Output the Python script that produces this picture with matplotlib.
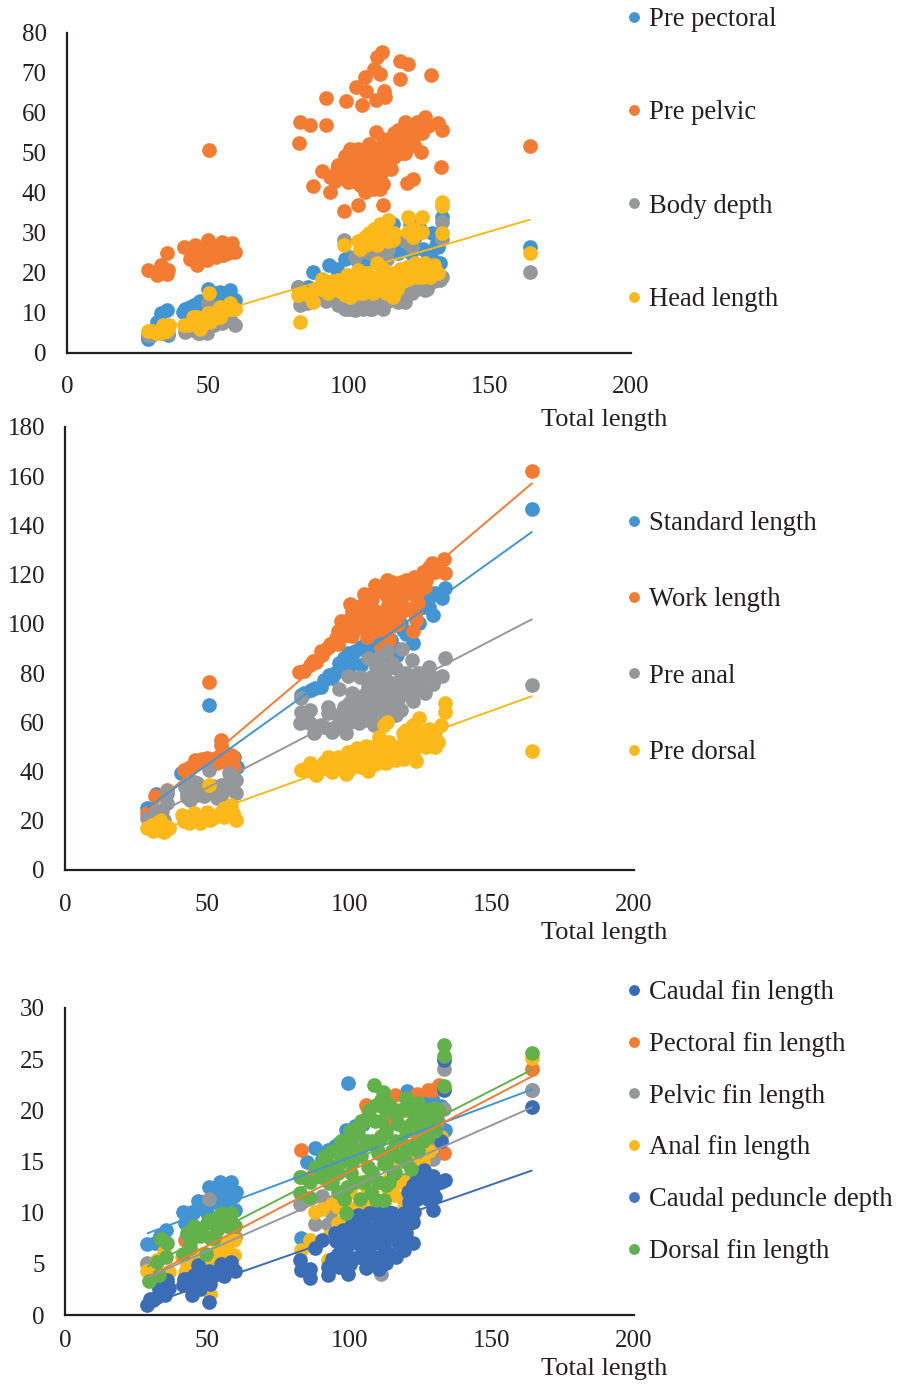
import matplotlib
matplotlib.use("Agg")
import matplotlib.pyplot as plt
import numpy as np
from matplotlib.lines import Line2D

# ---------- Panel 1 ----------
pre_pectoral_x = [28.8,28.8,31.8,33.5,35.3,35.9,41.2,43.6,46.5,48.3,50.1,51.8,54.2,54.8,57.8,59.5,82,85.6,87.4,91.5,93,95.6,98.6,102.7,106.3,115.7,117.5,119.3,121.6,126.4,129.3,129.3,131.7,132.3,132.9,164.2,
                  96,100,104,108,112,118,122,125,128,131, 42,45,47,49,53,56,58]
pre_pectoral_y = [3.5,3.9,7.7,9.8,10.6,4.4,10.2,11.4,12.3,10.6,16,13.9,15.2,13.1,15.6,13.1,16.4,16.4,20.2,17.3,21.8,21,23.5,23.1,22.3,32.3,24.8,15.6,26.4,26,30,23.5,26.4,22.3,33.9,26.4,
                  20,24,22,24,24,27,25,31,24,27, 11,12,13,11,15,13,14]
pre_pelvic_x = [28.8,31.8,33.5,35.3,35.5,35.9,41.4,43.6,43.6,45.3,46,47.1,49.5,50.1,50.4,51.8,54.8,55.4,56.6,58.4,59.5,
                82.3,82.6,86,87.4,90.3,92,92,93.3,93.3,95,95.6,98,98.2,98.6,99,99.8,100.4,102.5,102.7,103.3,103.3,103.3,104.5,105.7,105.7,105.7,105.7,106,106.3,107,108.6,109,109,109.6,109.7,109.8,111,111.6,112,112,112,112.5,112.8,112.8,112.8,115,115.7,117,117.5,118,118,120,120.5,121,121.6,122.8,123,124,125.5,127,128,129,131.7,132.6,133,164.2,
                96,98,100,101,102,103,104,105,106,107,
                108,108,110,110,111,111,113,113,114,114,
                115,116,117,118,119,120,121,122,123,124,
                107,109,111,104,101,126,118,116,99,120,
                44,45,46,48,49,50,52,53,54,57]
pre_pelvic_y = [20.6,19.4,21.9,19.6,24.9,20.6,26.4,23.5,26,26.8,21.9,24.8,23.1,28.1,50.8,26,27.7,24.3,26,27.3,25.2,
                52.4,57.8,57,41.8,45.4,63.7,57,44,40.2,43,45.6,46.8,35.4,49.3,63,42.8,51,66.4,48,51,44.4,37,62,69,46.4,42.3,40.2,65.6,49.8,52.3,44.6,71,42.3,63.3,55.2,74,69.8,75.2,53.5,42.3,37,65.6,64,49.3,46.4,46,50,53,55.6,73,68.5,57.7,42.4,72.3,51.6,43.5,54.3,57.7,50.2,59,56.8,69.6,57.4,46.4,55.6,51.8,
                47,44,46,49,44,47,49,45,48,47,
                50,46,51,47,49,44,52,46,50,48,
                52,49,51,53,50,54,52,55,52,56,
                43,41,41,42,43,55,55,55,48,50,
                24,25,23,25,26,24,25,24,27,25]
body_depth_x = [28.8,31,33,35.9,41.8,44.8,46.5,49.5,50.1,54.8,59.5,82,82.6,85,89.7,93.3,96.2,98.2,98.6,102.1,103.9,103.9,107.5,107.5,110.4,112.2,112.8,113.4,117.5,119.9,121.6,122.2,122.2,123.4,127,127.6,132.3,132.9,132.9,164.2,
                84,90,92,95,97,99,100,101,103,104,
                105,106,108,109,111,112,114,116,118,121,
                124,128,130,133,102,105,108,111,114,120,
                43,47,50,52,56,58,30,34]
body_depth_y = [4.3,4.6,5,5,5.2,5.6,4.8,4.8,12.3,7.3,6.9,16.4,11.9,12.3,15.2,13.9,11.9,28.1,11,10.6,25.2,13.1,24.8,10.8,12.3,13.9,24.8,23.5,12.7,12.7,32.3,14.8,26.4,28.9,15.6,16,18.1,32.7,28.5,20.2,
                14,14,13,14,12,13,11,13,11,12,
                11,13,11,13,12,11,13,14,14,15,
                16,17,18,19,24,26,27,26,26,28,
                6,5,8,7,8,8,4.5,5]
head_length_x = [28.8,31.2,33,34.1,35.9,41.4,44.8,47.1,50.1,50.4,50.7,54.2,54.2,57.8,59.5,
                 82,82.6,85.6,87.4,90.3,92.7,95.6,96.2,98.2,98.6,99.2,100.4,101.6,103.3,103.3,103.3,105.7,105.7,105.7,106.3,108.6,108.6,108.9,109.8,111,111,112.2,112.8,114,114.6,115.7,115.7,115.7,118.1,120.5,121,121,121,122.8,123.4,124.6,125.8,125.8,127,128.7,129.3,131.7,132.9,132.9,132.9,164.2,
                 84,88,90,93,94,96,97,98,100,101,
                 102,104,105,106,107,108,109,110,112,113,
                 113,114,116,117,118,119,120,122,123,125,
                 126,127,128,130,130,99,104,108,112,116,
                 104,106,107,109,110,111,113,114,116,123,
                 43,46,48,49,52,53,55,56,58,46,
                 30,32,34,35,36]
head_length_y = [5.4,5.2,4.8,6.9,6,6.9,8.9,6,9.8,15,7.7,11.4,8.9,12.3,11,
                 14.3,7.7,14.3,12.7,18.5,14.8,15.6,18.1,26.9,14.3,19.4,13.9,16.4,27.9,20.6,14.8,27.7,28.9,18.1,15.6,28.1,14.8,31,22.3,32.3,16.4,29.8,19.8,33.1,16.4,28.1,18.9,13.9,17.3,21.4,33.9,30.2,18.5,28.9,22.3,18.9,33.9,30.2,22.3,18.9,21,19.8,37.7,36.8,30,24.9,
                 15,16,16,17,18,16,17,15,18,15,
                 19,17,15,20,17,19,18,17,21,18,
                 15,20,20,16,21,18,19,21,19,20,
                 19,20,21,20,22,16,16,16,16,15,
                 26,27,30,30,27,30,31,28,30,31,
                 7,7,8,9,10,9,10,11,11,9,
                 5.5,5,6,5.5,7]

# ---------- Panel 2 ----------
standard_length_x = [28.8,32.1,35.9,40.6,50.7,59.4,60.5,82.9,86.4,89.9,92.9,96.4,99.3,99.3,104,104,108.7,111.7,114.6,116.7,118.7,122.2,124.6,124.6,127.5,129.3,129.9,132.5,133.4,164.3,
                     84,88,91,94,95,97,98,101,102,106,
                     107,110,113,116,118,120,123,126,128,131]
standard_length_y = [25.1,30.9,31.2,39.3,67.1,46.1,42,71.1,73.1,74.5,79.2,84,88,81.3,90.7,83.3,97.5,95.5,93.5,87.3,97.5,92.1,100.2,106.3,111,103.6,112.4,110.4,114.5,146.8,
                     72,74,77,78,80,82,86,85,89,93,
                     90,93,96,90,100,96,104,107,107,112]
work_length_x = [28.8,31.7,35.9,41.7,44.1,45.8,47.6,50,50.7,53.5,54.7,54.7,54.7,57,58.2,59.4,
                 82.3,86.2,88.2,90.5,92.5,95.2,98.7,98.7,99.3,102.3,102.8,103.8,106.1,106.1,107.6,107.6,110.1,111.1,112.2,112.8,113.1,113.4,113.4,114,117.5,118.1,118.7,119.3,122.2,122.8,122.8,123.4,124,126.4,126.4,128.9,129.9,133.2,133.6,164.3,
                 84,87,90,93,96,97,100,101,104,105,
                 105,108,109,110,112,114,115,116,116,118,
                 119,120,121,121,124,125,126,127,128,130,
                 105,109,113,117,110,115,96,101,100,123,
                 43,46,48,52,56,58,59]
work_length_y = [23,30.1,32.6,40.7,42,44.7,44.7,45.4,76.2,43.4,52.9,50.8,46.1,43.4,46.8,42,
                 80.6,83.3,84.6,87.4,90.7,94.1,95.5,101.3,97.5,103,98.2,107.4,111.7,94.8,102.3,107,113.8,90.7,97.5,111.7,117.8,102.3,107.7,93.5,111.7,117.2,105.4,115.1,97.2,119.2,111.7,101.6,108.4,117.8,115.1,124.6,121.2,126.2,120.5,162.2,
                 81,85,89,92,97,101,100,105,104,108,
                 100,110,97,105,114,110,99,105,115,109,
                 112,118,106,114,113,115,121,118,123,124,
                 112,116,104,100,100,117,92,95,108,105,
                 41,43,45,45,48,44,46]
pre_anal_x = [28.8,32.3,34.7,35.9,35.9,42.3,42.9,44.1,45.3,46.4,46.4,47.6,50.5,53.5,54.7,54.7,57,57.6,60,60,
              82.6,82.9,82.9,86.2,86.2,87.6,89.9,92.5,92.5,93.5,96.4,97,98.2,98.7,99.3,99.3,99.9,102.9,102.9,103.4,103.8,106.4,106.4,107.6,107.6,107.6,108.7,109.3,110.8,112.2,112.2,112.8,112.8,112.8,113.1,116.4,116.4,116.4,117.5,118.5,119.3,121.9,122.2,123.4,124,126.4,127.9,129.5,132.5,133.4,164.3,
              84,85,88,91,94,95,96,98,100,101,
              101,102,104,105,105,106,108,109,110,110,
              111,112,113,114,114,115,115,117,118,118,
              119,120,120,121,122,123,125,126,128,130,
              43,45,48,49,51,52,55,56,58,59,
              30,32,34]
pre_anal_y = [21,24.4,20.4,31.9,27.1,33.9,29.8,28.5,35.9,30.5,35.3,34,40.7,29.2,31.2,34.6,34.6,39.3,36.6,31.2,
              59.8,69.7,64.3,65,59.8,55.8,58.9,66.3,63.6,56.9,73.4,60.3,66.3,55.5,78.8,62.3,67.7,70.4,65,59.6,78.5,86,74.5,78.5,69,63.6,58.9,82.6,86.7,73.1,63.6,81.3,77.2,69,89,63,66.3,82,73.1,89.7,77.2,85.3,68.8,73.1,79.9,71.8,82.3,75.6,78.8,86,75,
              62,60,57,58,56,58,63,58,60,65,
              72,62,67,61,71,77,60,74,66,79,
              70,60,66,62,72,76,84,69,65,80,
              72,76,80,74,79,76,77,80,78,78,
              31,33,32,30,32,34,30,33,33,37,
              21,23,24]
pre_dorsal_x = [28.8,30.6,32.3,33.5,34.7,36.4,41.1,43.5,45.3,46.4,47.6,50,50.7,51.1,54.7,55.8,57.6,58.2,60,
                82.9,86.2,88.2,92.3,92.5,94,96.4,97,98.7,99.3,101.7,102.8,102.9,105.8,106.4,107.6,107.6,110.5,112.2,112.2,112.8,113.1,114.6,116.4,117.5,118.7,121.7,122.2,122.8,123.4,124.4,126.4,128.1,129.3,129.9,132.2,133.4,133.4,164.3,
                84,87,90,91,93,95,96,98,99,100,
                100,101,103,104,105,106,108,109,109,110,
                111,111,113,114,115,116,117,119,119,120,
                120,121,123,124,125,126,127,128,130,131,
                42,44,45,47,49,52,53,56,59,
                30,31,33,35]
pre_dorsal_y = [17,18.3,16.3,20.4,15.6,17,22.4,19,23.1,21,19,23.7,34.6,20.4,23.7,21.7,23.7,26.5,20.4,
                40.6,43.6,38.6,43.3,46,39.9,42,44,39.2,48.1,46.7,49.4,44,50.4,40.3,47.4,44,54.2,58.9,49.4,43.3,60.3,47.4,44.7,50.1,55.5,54.2,58.9,48.7,44.4,61.6,51.4,57.1,54.2,49.8,58.9,67.7,64.3,48.4,
                41,40,41,44,42,41,46,42,45,41,
                47,43,47,42,46,43,50,43,48,45,
                51,44,47,52,45,49,47,45,53,48,
                57,51,55,52,56,54,50,55,56,52,
                20,22,21,20,22,21,22,25,23,
                17,16,18,18]

# ---------- Panel 3 ----------
caudal_fin_x = [28.8,31.7,33.5,35.6,41.5,42.3,44.7,46.7,50,50.5,54.4,54.7,57,58.2,59.4,59.9,82.9,87.7,90.5,92.5,96.4,98.7,99.3,104.6,114.6,120.2,125.2,129,132.2,133.4,164.3,
                43,45,47,52,53,56,60,48, 85,95,101,102,115,118,123,127]
caudal_fin_y = [6.9,7,7.7,8.3,10.1,9,10.1,11.1,10,12.5,13,11.6,10.9,13,11.6,10.3,7.5,16.3,15.2,16.1,16.8,18.1,22.7,18.7,19.4,21.9,19.7,21.2,20.4,18.1,22,
                9.5,10,10.5,11,12,12,12,11, 15,16.5,18,18.5,19.5,20,21,21]
pectoral_fin_x = [28.8,42.3,59.9,82.9,82.9,87.6,98.2,105.8,106.4,107.6,113.4,116,117,123.7,124,127.5,129.3,129.9,131.6,133.2,164.3,
                  101,103,111,120,126,131]
pectoral_fin_y = [5,7.3,7.6,16.1,13.5,13.9,16.6,20.5,20,16.8,19.1,21.5,19.7,21.6,17.4,22,22,18.7,22.5,15.8,24,
                  16,18,17.5,20,20,20]
pelvic_fin_x = [28.8,42.9,50.7,57,82.6,87.8,90.5,92.5,93.5,104,111.1,119.3,125.8,128.1,129.3,133.2,133.2,164.3,
                95,98,126,130,131]
pelvic_fin_y = [5.1,7.7,11.3,7,10.8,8.9,11.6,8.9,10.1,17.1,4,13.2,16.6,16.5,15.2,24,20.1,22,
                11,12,17,17,19]
anal_fin_x = [28.8,32.3,34.7,36.4,41.1,42.3,47.6,50,51.1,53.5,54.7,57,59.4,59.4,
              82.9,86,87.8,90.5,92.5,92.9,94,95.8,105.2,105.8,107.6,111.7,113.4,113.4,115.8,115.8,119.3,120.5,126.4,132.2,164.3,
              96,98,100,102,104,106,108,110,112,114,
              116,118,120,122,124,126,128,114,117,122,
              43,45,46,48,52,55,58,56]
anal_fin_y = [4.3,5.4,6.2,4.2,5.7,4.2,5.7,5,2.1,6.4,6,5.7,5.9,7.3,
              6.4,7.3,10.1,10.4,5.4,7.7,10.9,10.6,10.1,12.6,13.5,8,13.2,7.3,11.7,14.8,11.1,15.8,12.6,17.4,25.1,
              9,11,12,10.5,13,11,12,13,11,12,
              13,13,13,15,14,15,16,9,10,12,
              5,5,5.5,6,6,6.5,6,7]
peduncle_x = [28.8,30,32.3,34.7,35.3,35.9,36.4,41.5,44.1,44.7,45.3,46.7,47.6,50,50.5,50.5,52.3,54.7,55.8,57.6,58.2,59.9,
              82.6,82.9,86,86,87.7,90.5,92.5,92.5,95.2,96.4,97.6,98.7,99.3,100.5,102.9,102.9,104,105.8,106.4,106.4,108.7,109.3,109.9,110.5,112.2,112.8,113.4,113.4,115.8,115.8,116.4,118.1,118.7,119.3,120.7,121.1,122.2,122.2,122.2,122.8,123.7,123.7,126.1,127.5,129.3,129.3,129.5,132,132.2,133.2,133.2,133.4,164.3,
              94,95,96,97,98,100,100,101,103,103,
              104,105,105,106,107,107,108,108,109,110,
              111,111,112,112,114,114,115,117,117,118,
              119,120,121,121,124,125,126,127,128,130,
              43,46,49,51,53,56,59,42,
              31,33,34,36]
peduncle_y = [1,1.6,1.8,3.1,2,3.4,2.6,2.9,2.8,2,3.9,4.9,2.5,3.1,1.3,4.3,3.9,5,3.8,4.6,5.2,4.3,
              5.4,4.4,4.5,3.6,6.5,7.3,3.9,4.7,7.2,4.7,8.3,6.2,4,7,9.8,5.7,8.3,4.6,6.7,5.4,5.7,10.1,8.3,4.5,6.7,5.1,10.1,7.7,8.3,13.9,5.7,7,9.9,6.4,12,9,7,9.1,12.7,10.1,11.3,13.5,14.2,11.3,10.3,13.6,12.4,17,13,22,24.9,13.2,20.3,
              5.5,8,6,7,5,8,5,9,7,9,
              6,9,5.5,8,7,10,5.5,8.5,7,9.5,
              5.5,8,9,6,8.5,6,10,7,9,8,
              10,8,7,11,12,13,13,12,13,11.5,
              3.5,3,4,3,4,4.5,4.5,3.5,
              1.5,2.5,2.5,3]
dorsal_fin_x = [29.4,32.3,32.9,33.7,35.6,35.9,41.5,44.1,45.5,47.6,49.4,50.5,52.3,53.5,54.7,57,58.2,59.9,
                82.6,82.6,86.2,87.9,89.9,92.3,92.9,95.8,95.8,98.2,98.7,100.5,100.5,100.5,102.8,103.8,104,106.4,106.4,107.6,107.6,108.7,109.3,109.3,109.9,111.1,111.7,112.2,112.2,112.2,112.2,112.8,113.4,115.8,117,117,118.7,119.9,121.7,121.7,122.8,122.8,124,126.4,127.5,127.5,129.6,129.9,133.2,133.2,133.2,164.3,
                86,90,91,94,94,97,97,99,99,101,
                102,103,103,105,105,106,108,108,109,110,
                110,111,113,113,114,114,116,116,118,118,
                120,120,122,124,124,126,126,128,130,131,
                100,104,107,111,115,93,96,116,120,125,
                43,46,48,50,55,56,58,44,53,51]
dorsal_fin_y = [3.3,5.2,3.9,7.4,5.7,7,6,7,8.7,7.7,6,9.3,7.5,8.3,10,8.7,10,8.7,
                13.5,11.9,11.4,14.5,13.5,14.8,12.9,15.8,13.9,11.3,10,17.3,15.8,13.9,17.9,11.3,15.5,16.8,14.5,19.2,11.9,22.5,20.5,11.2,15.8,17.4,21.8,21,20.2,14.8,11.2,12.7,12.9,19.7,18.7,15.5,15.2,21.2,18.7,14.3,19.7,16.5,20.7,20,18.7,17.4,20.2,19.1,26.4,25.3,22.4,25.6,
                13,14.5,15.5,13,16,15,17,12.5,16,15,
                13,16,18.5,13,19,17,14,17,19,13,
                16,19,15,18,13,20.5,17,20,17,20,
                15,18,20,16,19,17,19,20,18,20,
                18,19,20,21,16,14,12,14,16,18,
                8,8,8,9,9.5,9,9.5,6.5,9.5,7.5]

# Fitted trendlines (slope, intercept)
trend_x_range = [28.8, 164.3]
head_trend = (0.2085, -0.95)
work_trend = (0.981, -3.9)
standard_trend = (0.829, 1.3)
pre_anal_trend = (0.60, 3.4)
pre_dorsal_trend = (0.417, 2.2)
dorsal_trend = (0.1424, 0.6)
pectoral_trend = (0.1451, -0.5)
caudal_trend = (0.104, 4.97)
pelvic_trend = (0.123, 0.1)
peduncle_trend = (0.097, -1.8)

x_ticks = [0, 50, 100, 150, 200]
y_ticks_1 = list(range(0, 81, 10))
y_ticks_2 = list(range(0, 181, 20))
y_ticks_3 = list(range(0, 31, 5))

BLUE = "#4295d2"; ORANGE = "#f37c32"; GRAY = "#95989a"; YELLOW = "#fdb91a"
DBLUE = "#3a6db5"; GREEN = "#63b14a"; INK = "#231f20"
LEG_CAUDAL = "#2f6eb9"; LEG_PED = "#4676c2"
plt.rcParams["font.family"] = "Liberation Serif"
W, H = 900, 1386
fig = plt.figure(figsize=(W/100, H/100), dpi=100)

def make_axes(left, right, top, bottom, ymax, yticks, xpad):
    ax = fig.add_axes([left/W, 1-bottom/H, (right-left)/W, (bottom-top)/H])
    ax.set_xlim(0, 200); ax.set_ylim(0, ymax)
    ax.set_xticks(x_ticks); ax.set_yticks(yticks)
    ax.tick_params(length=0, labelsize=18, colors=INK, pad=14.5)
    ax.tick_params(axis="x", pad=xpad)
    for s in ("top", "right"):
        ax.spines[s].set_visible(False)
    for s in ("left", "bottom"):
        ax.spines[s].set_linewidth(1.6); ax.spines[s].set_color(INK)
        ax.spines[s].set_zorder(6)
    ax.set_xlabel("Total length", fontsize=19, color=INK)
    return ax

def scatter(ax, x, y, c):
    ax.scatter(x, y, s=112, c=c, linewidths=0, clip_on=False, zorder=3)

def trend(ax, t, c):
    xs = np.array(trend_x_range)
    ax.plot(xs, t[0]*xs+t[1], color=c, lw=1.4, zorder=5, solid_capstyle="butt")

def legend(items, x_px, y_px, gap_px):
    hs = [Line2D([], [], ls="", marker="o", ms=7.8, mfc=c, mec="none", label=l) for l, c in items]
    fs_px = 19.2*100/72
    fig.legend(handles=hs, loc="upper left", bbox_to_anchor=(x_px/W, 1-y_px/H),
               frameon=False, fontsize=19.2, labelcolor=INK, borderpad=0, borderaxespad=0,
               handlelength=0.55, handletextpad=0.27,
               labelspacing=(gap_px-fs_px)/fs_px)

# Panel 1
a1 = make_axes(67, 631, 33, 352.5, 80, y_ticks_1, 17)
scatter(a1, pre_pectoral_x, pre_pectoral_y, BLUE)
scatter(a1, pre_pelvic_x, pre_pelvic_y, ORANGE)
scatter(a1, body_depth_x, body_depth_y, GRAY)
scatter(a1, head_length_x, head_length_y, YELLOW)
trend(a1, head_trend, YELLOW)
a1.xaxis.set_label_coords((604-67)/(631-67), -(409-352.5)/(352.5-33))
legend([("Pre pectoral", BLUE), ("Pre pelvic", ORANGE), ("Body depth", GRAY), ("Head length", YELLOW)], 627, 7, 95.0)

# Panel 2
a2 = make_axes(65, 634, 427, 870, 180, y_ticks_2, 17)
scatter(a2, standard_length_x, standard_length_y, BLUE)
scatter(a2, work_length_x, work_length_y, ORANGE)
scatter(a2, pre_anal_x, pre_anal_y, GRAY)
scatter(a2, pre_dorsal_x, pre_dorsal_y, YELLOW)
for t, c in [(work_trend, ORANGE), (standard_trend, BLUE), (pre_anal_trend, GRAY), (pre_dorsal_trend, YELLOW)]:
    trend(a2, t, c)
a2.xaxis.set_label_coords((604-65)/(634-65), -(922-870)/(870-427))
legend([("Standard length", BLUE), ("Work length", ORANGE), ("Pre anal", GRAY), ("Pre dorsal", YELLOW)], 627, 511, 78.0)

# Panel 3
a3 = make_axes(65, 634, 1008, 1315, 30, y_ticks_3, 11)
scatter(a3, caudal_fin_x, caudal_fin_y, BLUE)
scatter(a3, pectoral_fin_x, pectoral_fin_y, ORANGE)
scatter(a3, pelvic_fin_x, pelvic_fin_y, GRAY)
scatter(a3, anal_fin_x, anal_fin_y, YELLOW)
scatter(a3, peduncle_x, peduncle_y, DBLUE)
scatter(a3, dorsal_fin_x, dorsal_fin_y, GREEN)
for t, c in [(caudal_trend, BLUE), (dorsal_trend, GREEN), (pectoral_trend, ORANGE), (pelvic_trend, GRAY), (peduncle_trend, DBLUE)]:
    trend(a3, t, c)
a3.xaxis.set_label_coords((604-65)/(634-65), -(1358-1315)/(1315-1008))
legend([("Caudal fin length", LEG_CAUDAL), ("Pectoral fin length", ORANGE), ("Pelvic fin length", GRAY),
        ("Anal fin length", YELLOW), ("Caudal peduncle depth", LEG_PED), ("Dorsal fin length", GREEN)], 627, 980, 53.5)

fig.savefig("out.png", dpi=100)
